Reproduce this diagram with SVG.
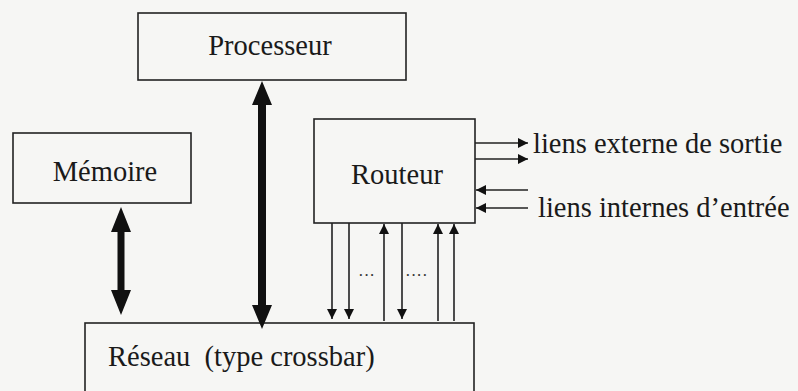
<svg xmlns="http://www.w3.org/2000/svg" width="798" height="391" viewBox="0 0 798 391">
<style>
.box{fill:none;stroke:#222;stroke-width:1.6}
.lbl{font-family:"Liberation Serif","Times New Roman",serif;font-size:28.5px;fill:#1a1a1a}
.ln{stroke:#222;stroke-width:1.6;fill:none}
.thick{fill:#111;stroke:none}
.dots{font-family:"Liberation Serif",serif;font-size:17px;fill:#333}
</style>
<defs>
<marker id="ah" viewBox="0 0 10 10" refX="10" refY="5" markerWidth="10" markerHeight="11" markerUnits="userSpaceOnUse" orient="auto">
<path d="M0,0 L10,5 L0,10 Z" fill="#111"/>
</marker>
</defs>
<rect width="798" height="391" fill="#f6f6f4"/>
<g id="processeur">
<rect class="box" x="138" y="13" width="268" height="67"/>
<text class="lbl" x="270" y="55" text-anchor="middle">Processeur</text>
</g>
<g id="memoire">
<rect class="box" x="13" y="133" width="178" height="70"/>
<text class="lbl" x="105" y="181" text-anchor="middle">Mémoire</text>
</g>
<g id="routeur">
<rect class="box" x="314" y="119" width="161" height="104"/>
<text class="lbl" x="397" y="184" text-anchor="middle">Routeur</text>
</g>
<g id="reseau">
<rect class="box" x="85" y="323" width="389" height="80"/>
<text class="lbl" x="108" y="366" xml:space="preserve">Réseau  (type crossbar)</text>
</g>
<g id="labels">
<text class="lbl" x="533" y="153">liens externe de sortie</text>
<text class="lbl" x="538" y="217">liens internes d’entrée</text>
<text class="dots" x="358" y="281">···</text>
<text class="dots" x="405" y="281">····</text>
</g>
<g id="connectors">
<path class="thick" d="M262,81 L272,105 L266,105 L266,305 L272,305 L262,329 L252,305 L258,305 L258,105 L252,105 Z"/>
<path class="thick" d="M121,207 L131,232 L124.5,232 L124.5,290 L131,290 L121,315 L111,290 L117.5,290 L117.5,232 L111,232 Z"/>
<line class="ln" x1="475" y1="143" x2="528" y2="143" marker-end="url(#ah)"/>
<line class="ln" x1="475" y1="159" x2="528" y2="159" marker-end="url(#ah)"/>
<line class="ln" x1="528" y1="190" x2="476" y2="190" marker-end="url(#ah)"/>
<line class="ln" x1="528" y1="208" x2="476" y2="208" marker-end="url(#ah)"/>
<line class="ln" x1="332" y1="223" x2="332" y2="319" marker-end="url(#ah)"/>
<line class="ln" x1="349" y1="223" x2="349" y2="319" marker-end="url(#ah)"/>
<line class="ln" x1="384" y1="321" x2="384" y2="224" marker-end="url(#ah)"/>
<line class="ln" x1="402" y1="223" x2="402" y2="319" marker-end="url(#ah)"/>
<line class="ln" x1="438" y1="321" x2="438" y2="224" marker-end="url(#ah)"/>
<line class="ln" x1="454" y1="321" x2="454" y2="224" marker-end="url(#ah)"/>
</g>
</svg>
